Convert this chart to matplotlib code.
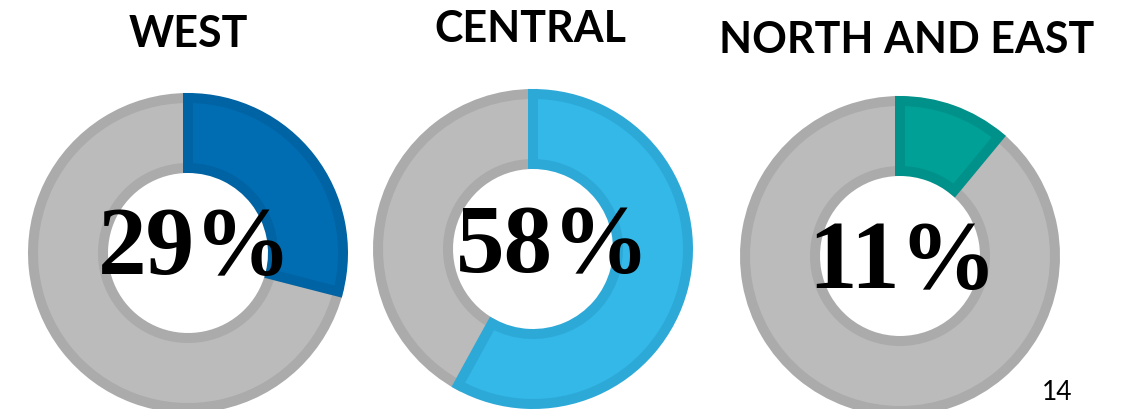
import matplotlib
matplotlib.use("Agg")
import matplotlib.pyplot as plt

# Share of respondents by region
regions = ["WEST", "CENTRAL", "NORTH AND EAST"]
shares = [29, 58, 11]
fill_colors = ["#006DB3", "#33B8E8", "#00A097"]
edge_colors = ["#0063A4", "#2DA9D8", "#00918A"]
page_number = "14"

GREY_FILL = "#BBBBBB"
GREY_EDGE = "#ABABAB"

W, H = 1128, 410
fig = plt.figure(figsize=(W / 100, H / 100), dpi=100)
ax = fig.add_axes([0, 0, 1, 1])

# layout in pixel units (y measured from the top)
centers = [(188, 254), (533, 250), (900, 257)]
outer_r, inner_r = 160, 80
border_px = 10
title_pos = [(188, 34), (530, 29), (907, 40)]
pct_pos = [(195, 251), (553, 249), (903, 264)]

# strokes are centred on the wedge outline, so pull the geometry in by half a border
radius = outer_r - border_px / 2
ring_width = (outer_r - inner_r) - border_px
lw = border_px * 72 / 100

for i, region in enumerate(regions):
    cx, cy = centers[i]
    wedges, _ = ax.pie([shares[i], 100 - shares[i]],
                       colors=[fill_colors[i], GREY_FILL],
                       startangle=90, counterclock=False,
                       center=(cx, H - cy), radius=radius,
                       wedgeprops=dict(width=ring_width, linewidth=lw,
                                       joinstyle="miter"))
    wedges[0].set_edgecolor(edge_colors[i])
    wedges[1].set_edgecolor(GREY_EDGE)
    wedges[0].set_zorder(3)

    tx, ty = title_pos[i]
    ax.text(tx, H - ty, region, ha="center", va="center",
            fontsize=31, fontweight="bold", family=["Lato", "DejaVu Sans"])
    px, py = pct_pos[i]
    ax.text(px, H - py, f"{shares[i]}%", ha="center", va="center",
            fontsize=70, fontweight="bold",
            family=["Liberation Serif", "DejaVu Serif"], color="black",
            zorder=5)

ax.text(1057, H - 393, page_number, ha="center", va="center",
        fontsize=19, family=["Lato", "DejaVu Sans"])

ax.set_xlim(0, W)
ax.set_ylim(0, H)
ax.set_aspect("equal")
ax.axis("off")

fig.savefig("out.png", dpi=100, facecolor="white")
